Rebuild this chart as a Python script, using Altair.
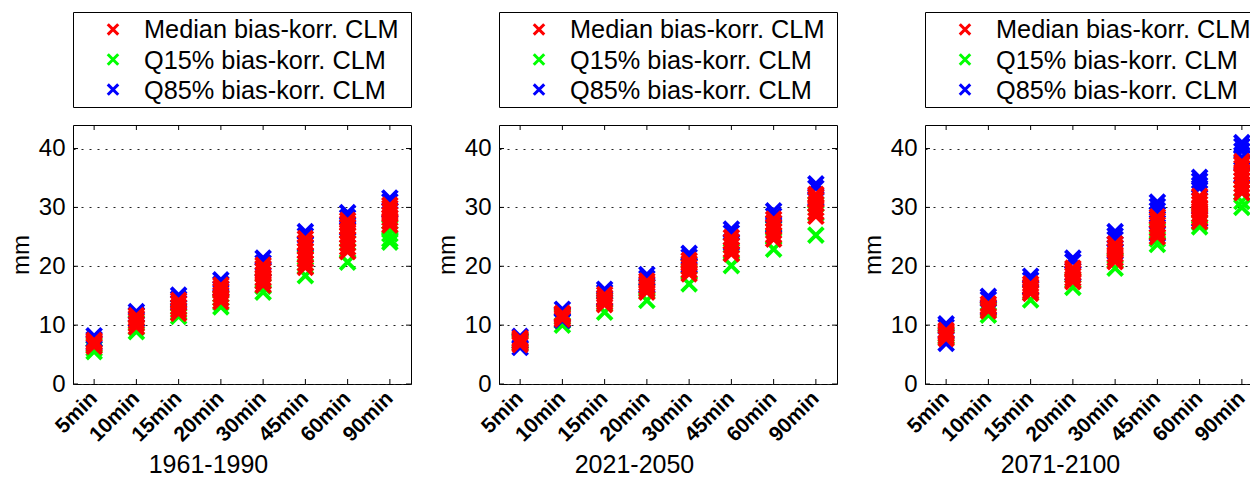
import altair as alt
import pandas as pd

FONT = "Liberation Sans"

DURATIONS = ["5min", "10min", "15min", "20min", "30min", "45min", "60min", "90min"]
PERIODS = ["1961-1990", "2021-2050", "2071-2100"]
SERIES = ["Median bias-korr. CLM", "Q15% bias-korr. CLM", "Q85% bias-korr. CLM"]
COLORS = ["#ff0000", "#00ff00", "#0000ff"]
Y_TICKS = [0, 10, 20, 30, 40]

# ---- 1961-1990 ----
MED_1961 = [
    [6.4, 6.8, 7.1, 7.4],
    [9.7, 10.2, 10.7, 11.2, 11.6],
    [12.0, 12.6, 13.1, 13.7, 14.2],
    [14.0, 14.6, 15.2, 15.8, 16.3, 16.8],
    [16.8, 17.4, 18.0, 18.6, 19.2, 19.7, 20.2],
    [19.8, 20.5, 21.2, 21.9, 22.6, 23.3, 24.0, 24.7],
    [22.5, 23.2, 23.9, 24.6, 25.3, 26.0, 26.7, 27.3, 27.8],
    [27.0, 27.6, 28.2, 28.8, 29.4, 29.9, 30.4],
]
Q15_1961 = [
    [5.5, 6.0, 6.6],
    [8.9, 9.6, 10.4],
    [11.5, 12.2, 13.0],
    [13.1, 13.8, 14.6],
    [15.6, 16.6, 17.5],
    [18.4, 20.0, 21.5],
    [20.7, 22.6, 24.0],
    [24.1, 24.6, 25.5, 26.5],
]
Q85_1961 = [
    [8.2, 7.6, 7.0],
    [12.3, 11.8, 11.0],
    [15.1, 14.5, 13.8],
    [17.7, 17.0, 16.2],
    [21.4, 20.6, 19.5],
    [25.9, 25.2, 23.8],
    [29.1, 28.3, 26.5],
    [31.6, 31.0, 29.5],
]

# ---- 2021-2050 ----
MED_2021 = [
    [6.7, 7.0, 7.3, 7.6, 7.8],
    [11.0, 11.3, 11.6, 11.9, 12.0],
    [13.5, 13.9, 14.3, 14.7, 15.2],
    [15.6, 16.1, 16.6, 17.1, 17.5],
    [18.7, 19.3, 19.9, 20.5, 21.0],
    [22.1, 22.8, 23.5, 24.2, 24.9],
    [24.6, 25.3, 26.0, 26.7, 27.4, 28.0],
    [28.5, 29.2, 29.9, 30.6, 31.3, 31.8, 32.2],
]
Q15_2021 = [
    [6.9, 7.2, 7.5],
    [10.0, 10.7, 11.4],
    [12.2, 13.6, 14.3],
    [14.2, 15.8, 16.5],
    [17.0, 19.0, 20.0],
    [20.1, 22.5, 23.6],
    [22.9, 25.0, 26.4],
    [25.3, 29.0, 30.5],
]
Q85_2021 = [
    [8.1, 6.2, 7.3],
    [12.7, 10.8, 11.8],
    [16.1, 15.6, 14.6],
    [18.6, 18.0, 16.8],
    [22.2, 21.6, 20.2],
    [26.3, 25.7, 24.0],
    [29.4, 28.6, 27.0],
    [34.0, 33.3, 31.5],
]

# ---- 2071-2100 ----
MED_2071 = [
    [7.7, 8.1, 8.5, 8.8, 9.1],
    [12.4, 12.8, 13.2, 13.6],
    [15.4, 15.8, 16.2, 16.6, 17.0],
    [17.4, 17.9, 18.4, 18.9, 19.3, 19.7],
    [20.8, 21.4, 22.0, 22.6, 23.2, 23.8],
    [25.0, 25.7, 26.4, 27.1, 27.8, 28.4],
    [27.6, 28.2, 28.8, 29.4, 30.0, 30.6, 31.2, 31.9],
    [32.5, 33.2, 33.9, 34.6, 35.3, 36.0, 36.7, 37.3, 37.8],
]
Q15_2071 = [
    [7.9, 8.4],
    [11.7, 12.6],
    [14.3, 15.5],
    [16.4, 17.6],
    [19.7, 21.0],
    [23.7, 24.6, 26.0],
    [26.7, 27.4, 28.5],
    [30.0, 31.0, 32.5],
]
Q85_2071 = [
    [10.2, 9.7, 6.9],
    [14.9, 14.4, 13.0],
    [18.3, 17.7, 16.4],
    [21.4, 20.8, 18.8],
    [25.9, 25.2, 24.6, 22.5],
    [30.9, 30.2, 29.5, 28.8, 25.5],
    [35.1, 34.5, 33.8, 33.3, 28.0],
    [41.0, 40.4, 39.6, 38.5, 35.5],
]

PANEL_DATA = {
    "1961-1990": (MED_1961, Q15_1961, Q85_1961),
    "2021-2050": (MED_2021, Q15_2021, Q85_2021),
    "2071-2100": (MED_2071, Q15_2071, Q85_2071),
}

W = 338
H = 259
X_PATH = "M-1,-1L1,1M1,-1L-1,1"


def long_table(period):
    med, q15, q85 = PANEL_DATA[period]
    rows = []
    # draw order: Q15, Q85, then Median on top
    for name, arr in ((SERIES[1], q15), (SERIES[2], q85), (SERIES[0], med)):
        for dur, vals in zip(DURATIONS, arr):
            for v in vals:
                rows.append({"duration": dur, "series": name, "value": v})
    return pd.DataFrame(rows)


color_scale = alt.Scale(domain=SERIES, range=COLORS)
y_scale = alt.Scale(domain=[0, 44], nice=False, zero=True)
x_scale = alt.Scale(domain=DURATIONS)


def make_plot(period):
    df = long_table(period)
    points = alt.Chart(df).mark_point(
        shape=X_PATH, size=225, strokeWidth=3.8, filled=False, opacity=1
    ).encode(
        x=alt.X(
            "duration:N",
            scale=x_scale,
            sort=DURATIONS,
            title=period,
            axis=alt.Axis(
                labelAngle=-45,
                labelAlign="right",
                labelBaseline="middle",
                labelFontSize=21,
                labelFontWeight="bold",
                labelFont=FONT,
                labelColor="#000",
                labelPadding=11,
                ticks=False,
                domain=False,
                titleFontSize=25,
                titleFont=FONT,
                titleFontWeight="normal",
                titleColor="#000",
                titlePadding=8,
                titleX=W / 2 - 34,
            ),
        ),
        y=alt.Y(
            "value:Q",
            scale=y_scale,
            title="mm",
            axis=alt.Axis(
                values=Y_TICKS,
                labelFontSize=24,
                labelFont=FONT,
                labelColor="#000",
                labelPadding=8,
                ticks=False,
                domain=False,
                grid=True,
                gridColor="#222",
                gridDash=[2, 6],
                gridWidth=1.2,
                titleFontSize=24,
                titleFont=FONT,
                titleFontWeight="normal",
                titleColor="#000",
                titlePadding=5,
            ),
        ),
        color=alt.Color("series:N", scale=color_scale, legend=None),
    )

    dur_df = pd.DataFrame({"duration": DURATIONS})
    tick_bottom = alt.Chart(dur_df).mark_rule(color="#000", strokeWidth=1).encode(
        x=alt.X("duration:N", scale=x_scale, sort=DURATIONS),
        y=alt.value(H),
        y2=alt.value(H - 5),
    )
    tick_top = alt.Chart(dur_df).mark_rule(color="#000", strokeWidth=1).encode(
        x=alt.X("duration:N", scale=x_scale, sort=DURATIONS),
        y=alt.value(0),
        y2=alt.value(5),
    )
    yt_df = pd.DataFrame({"value": Y_TICKS})
    tick_left = alt.Chart(yt_df).mark_rule(color="#000", strokeWidth=1).encode(
        y=alt.Y("value:Q", scale=y_scale),
        x=alt.value(0),
        x2=alt.value(5),
    )
    tick_right = alt.Chart(yt_df).mark_rule(color="#000", strokeWidth=1).encode(
        y=alt.Y("value:Q", scale=y_scale),
        x=alt.value(W),
        x2=alt.value(W - 5),
    )
    return alt.layer(points, tick_bottom, tick_top, tick_left, tick_right).properties(
        width=W, height=H
    )


def make_legend():
    ldf = pd.DataFrame({"series": SERIES})
    ly = alt.Y(
        "series:N",
        scale=alt.Scale(type="point", domain=SERIES, padding=0.58),
        axis=None,
    )
    sym = alt.Chart(ldf).mark_point(
        shape=X_PATH, size=110, strokeWidth=3, filled=False, opacity=1
    ).encode(
        x=alt.value(40),
        y=ly,
        color=alt.Color("series:N", scale=color_scale, legend=None),
    )
    txt = alt.Chart(ldf).mark_text(
        align="left", baseline="middle", fontSize=25.3, font=FONT, color="#000", dy=1
    ).encode(
        x=alt.value(71),
        y=ly,
        text="series:N",
    )
    return alt.layer(sym, txt).properties(width=W, height=95)


cells = [make_legend() for _ in PERIODS] + [make_plot(p) for p in PERIODS]

chart = alt.concat(
    *cells,
    columns=3,
    spacing={"row": 18, "column": 88},
    bounds="flush",
).properties(
    padding={"left": 0, "top": 3, "right": -14, "bottom": 0},
    background="white",
).configure_view(
    stroke="#000", strokeWidth=1
)

chart.save("out.html", embed_options={"renderer": "svg", "actions": False})
